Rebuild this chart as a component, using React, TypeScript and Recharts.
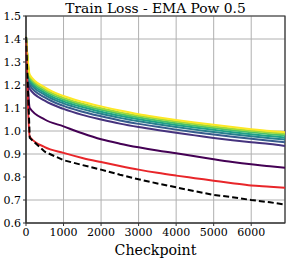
import * as React from "react"
import { LineChart, Line, XAxis, YAxis, CartesianGrid, ReferenceArea } from "recharts"

const checkpoints = [0, 100, 500, 1000, 1500, 2000, 2500, 3000, 3500, 4000, 4500, 5000, 5500, 6000, 6500, 6900]

const baseline = [1.41, 0.97, 0.91, 0.873, 0.852, 0.832, 0.81, 0.79, 0.772, 0.755, 0.738, 0.722, 0.712, 0.7, 0.69, 0.68]
const red = [1.41, 0.975, 0.93, 0.905, 0.883, 0.865, 0.848, 0.832, 0.818, 0.806, 0.795, 0.784, 0.773, 0.763, 0.758, 0.753]
const v0 = [1.41, 1.1, 1.05, 1.02, 0.99, 0.964, 0.945, 0.929, 0.915, 0.903, 0.89, 0.877, 0.865, 0.855, 0.847, 0.84]
const v1 = [1.41, 1.183, 1.132, 1.096, 1.07, 1.05, 1.032, 1.017, 1.004, 0.992, 0.981, 0.97, 0.96, 0.951, 0.943, 0.935]
const v2 = [1.41, 1.199, 1.146, 1.109, 1.084, 1.064, 1.046, 1.031, 1.018, 1.006, 0.995, 0.985, 0.975, 0.966, 0.958, 0.951]
const v3 = [1.41, 1.211, 1.157, 1.12, 1.095, 1.075, 1.057, 1.042, 1.029, 1.017, 1.006, 0.996, 0.986, 0.977, 0.969, 0.963]
const v4 = [1.41, 1.221, 1.166, 1.129, 1.104, 1.084, 1.066, 1.051, 1.038, 1.026, 1.015, 1.005, 0.995, 0.986, 0.978, 0.972]
const v5 = [1.41, 1.229, 1.174, 1.137, 1.112, 1.092, 1.074, 1.059, 1.046, 1.034, 1.023, 1.013, 1.003, 0.994, 0.986, 0.981]
const v6 = [1.41, 1.237, 1.182, 1.144, 1.119, 1.099, 1.081, 1.066, 1.053, 1.041, 1.03, 1.02, 1.01, 1.001, 0.993, 0.988]
const v7 = [1.41, 1.245, 1.19, 1.152, 1.127, 1.107, 1.089, 1.073, 1.06, 1.048, 1.037, 1.027, 1.017, 1.008, 1.0, 0.995]

const viridis = [
  { key: "v0", values: v0, color: "#440154" },
  { key: "v1", values: v1, color: "#46337e" },
  { key: "v2", values: v2, color: "#365c8d" },
  { key: "v3", values: v3, color: "#277f8e" },
  { key: "v4", values: v4, color: "#1fa187" },
  { key: "v5", values: v5, color: "#4ac16d" },
  { key: "v6", values: v6, color: "#a0da39" },
  { key: "v7", values: v7, color: "#fde725" },
]

const xTicks = [0, 1000, 2000, 3000, 4000, 5000, 6000]
const yTicks = [0.6, 0.7, 0.8, 0.9, 1.0, 1.1, 1.2, 1.3, 1.4, 1.5]

const font = "DejaVu Serif"

export default function App() {
  const data = checkpoints.map((c, i) => {
    const row: { [key: string]: number } = { step: c, baseline: baseline[i], red: red[i] }
    viridis.forEach((s) => {
      row[s.key] = s.values[i]
    })
    return row
  })

  return (
    <div style={{ position: "absolute", left: 0, top: 0, width: 289, height: 258, background: "#fff" }}>
      <div
        style={{
          position: "absolute",
          left: 26,
          width: 259,
          top: 0,
          textAlign: "center",
          fontFamily: font,
          fontSize: 13.8,
          lineHeight: "16px",
          color: "#000",
        }}
      >
        Train Loss - EMA Pow 0.5
      </div>
      <LineChart width={289} height={258} data={data} margin={{ top: 16, right: 4, left: 0, bottom: 0 }}>
        <CartesianGrid stroke="#b0b0b0" strokeWidth={1} />
        <XAxis
          dataKey="step"
          type="number"
          domain={[0, 6900]}
          ticks={xTicks}
          height={35}
          tickSize={3}
          stroke="#333"
          tick={{ fill: "#000", fontFamily: font, fontSize: 11 }}
          label={{ value: "Checkpoint", position: "insideBottom", offset: 3, fill: "#000", fontFamily: font, fontSize: 14.2 }}
        />
        <YAxis
          type="number"
          domain={[0.6, 1.5]}
          ticks={yTicks}
          width={26}
          tickSize={3}
          stroke="#333"
          tickFormatter={(v: number) => v.toFixed(1)}
          tick={{ fill: "#000", fontFamily: font, fontSize: 11 }}
        />
        {viridis.map((s) => (
          <Line key={s.key} dataKey={s.key} stroke={s.color} strokeWidth={2} dot={false} type="monotone" isAnimationActive={false} />
        ))}
        <Line dataKey="red" stroke="#e8262a" strokeWidth={2} dot={false} type="monotone" isAnimationActive={false} />
        <Line dataKey="baseline" stroke="#000" strokeWidth={2} strokeDasharray="6 3" dot={false} type="linear" isAnimationActive={false} />
        <ReferenceArea x1={0} x2={6900} y1={0.6} y2={1.5} fill="none" stroke="#333" strokeWidth={1.2} />
      </LineChart>
    </div>
  )
}
